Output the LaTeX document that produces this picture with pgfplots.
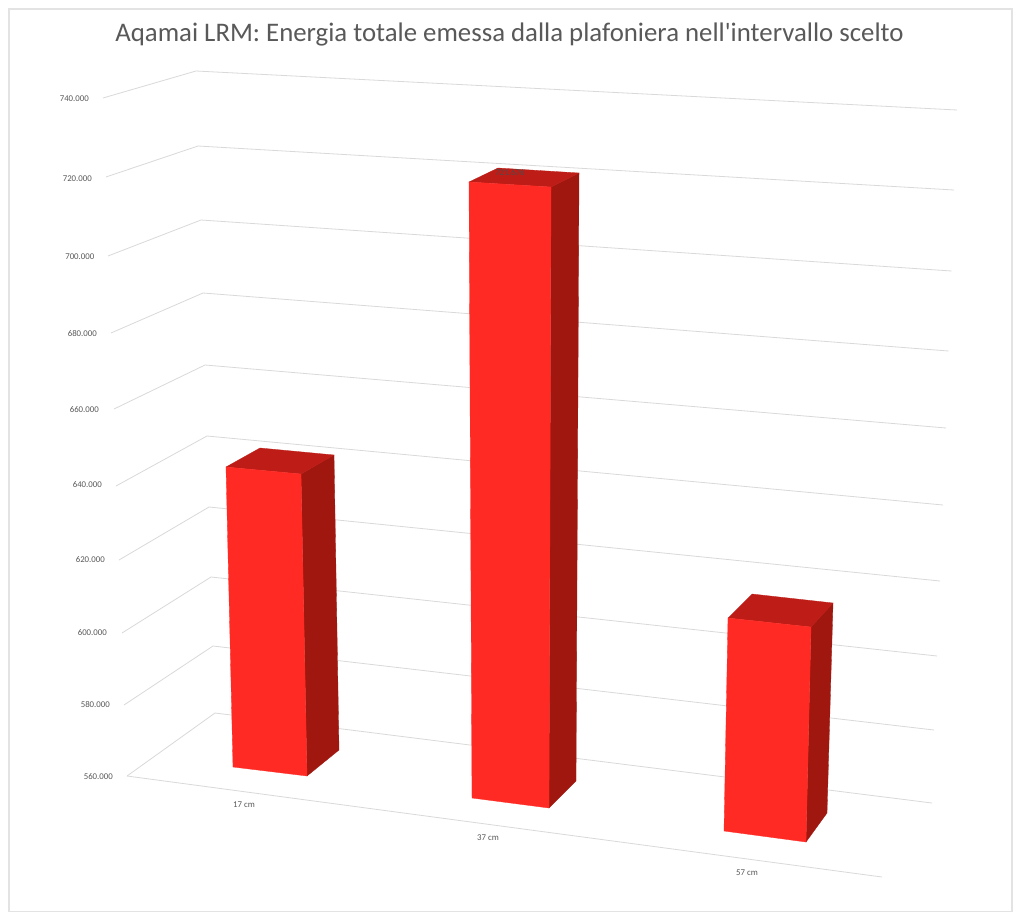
\documentclass[border=0pt]{standalone}
\usepackage{fontspec}
\setmainfont{Carlito}[Ligatures=TeXOff]
\usepackage{pgfplots}
\pgfplotsset{compat=1.18}
\definecolor{txt}{HTML}{595959}
\definecolor{gridc}{HTML}{D9D9D9}
\definecolor{framec}{HTML}{E3E3E3}
\definecolor{barfront}{HTML}{FF2A24}
\definecolor{bartop}{HTML}{BE1C16}
\definecolor{barside}{HTML}{A0170F}
\tikzset{
  gridl/.style={draw=gridc, line width=0.8pt},
  lab/.style={font=\fontsize{8.8}{10}\selectfont, text=txt, inner sep=0pt},
}
\begin{document}
\begin{tikzpicture}
\begin{axis}[
    scale only axis, width=1024pt, height=923pt,
    xmin=0, xmax=1024, ymin=0, ymax=923,
    y dir=reverse, hide axis, clip=false,
  ]
  % the picture is a 3D perspective chart, so all is in projected pixel positions
  \addplot[draw=none, fill=white] coordinates {(0,0) (1024,0) (1024,923) (0,923)} -- cycle;
  \addplot[draw=framec, line width=1.2pt] coordinates {(9,9) (1012,9) (1012,911.5) (9,911.5)} -- cycle;

  % gridlines: side wall front, corner, back wall end
  \addplot[gridl] coordinates {(103,98) (196,71) (957,110)};   % 740.000
  \addplot[gridl] coordinates {(106,177) (198,146) (954,190)}; % 720.000
  \addplot[gridl] coordinates {(108,256) (201,220) (951.5,271)}; % 700.000
  \addplot[gridl] coordinates {(111,333) (203,293) (948.5,351)}; % 680.000
  \addplot[gridl] coordinates {(114,409) (205,365) (946,428)}; % 660.000
  \addplot[gridl] coordinates {(116,486) (207,436) (943,505)}; % 640.000
  \addplot[gridl] coordinates {(119,560) (209,507) (940,581)}; % 620.000
  \addplot[gridl] coordinates {(122,633) (211,577) (937,656)}; % 600.000
  \addplot[gridl] coordinates {(124,705) (213,646) (934,730)}; % 580.000
  \addplot[gridl] coordinates {(127,776) (215,713) (932,803)}; % 560.000
  \addplot[gridl] coordinates {(127,776) (882,877)};           % floor edge

  % 17 cm
  \addplot[fill=barside, draw=barside, line width=0.3pt] coordinates {(301,474) (334,455) (339,750) (307,776)} -- cycle;
  \addplot[fill=bartop, draw=bartop, line width=0.3pt] coordinates {(226,467) (260,448) (334,455) (301,474)} -- cycle;
  \addplot[fill=barfront, draw=barfront, line width=0.3pt] coordinates {(226,467) (301,474) (307,776) (233,767)} -- cycle;
  % 37 cm
  \addplot[fill=barside, draw=barside, line width=0.3pt] coordinates {(551,187) (579,173) (576,781) (549,808)} -- cycle;
  \addplot[fill=bartop, draw=bartop, line width=0.3pt] coordinates {(469,182) (498,168) (579,173) (551,187)} -- cycle;
  \addplot[fill=barfront, draw=barfront, line width=0.3pt] coordinates {(469,182) (551,187) (549,808) (472,798)} -- cycle;
  % 57 cm
  \addplot[fill=barside, draw=barside, line width=0.3pt] coordinates {(811,627) (833,603) (827,813) (806,842)} -- cycle;
  \addplot[fill=bartop, draw=bartop, line width=0.3pt] coordinates {(728,618) (752,594) (833,603) (811,627)} -- cycle;
  \addplot[fill=barfront, draw=barfront, line width=0.3pt] coordinates {(728,618) (811,627) (806,842) (724,831)} -- cycle;

  \node[font=\fontsize{26.8}{30}\selectfont, text=txt, inner sep=0pt] at (axis cs:509.5,34.5) {Aqamai LRM: Energia totale emessa dalla plafoniera nell'intervallo scelto};

  \node[lab, anchor=east] at (axis cs:89,99) {740.000};
  \node[lab, anchor=east] at (axis cs:92,178.5) {720.000};
  \node[lab, anchor=east] at (axis cs:94.5,257) {700.000};
  \node[lab, anchor=east] at (axis cs:97,334) {680.000};
  \node[lab, anchor=east] at (axis cs:99,410) {660.000};
  \node[lab, anchor=east] at (axis cs:102,485) {640.000};
  \node[lab, anchor=east] at (axis cs:105,560) {620.000};
  \node[lab, anchor=east] at (axis cs:107,633) {600.000};
  \node[lab, anchor=east] at (axis cs:110,705) {580.000};
  \node[lab, anchor=east] at (axis cs:113,777) {560.000};

  \node[lab] at (axis cs:244,805) {17 cm};
  \node[lab] at (axis cs:488,838) {37 cm};
  \node[lab] at (axis cs:747,872.5) {57 cm};
  \node[lab, text=black!70] at (axis cs:510,173) {721.676};
\end{axis}
\end{tikzpicture}
\end{document}
